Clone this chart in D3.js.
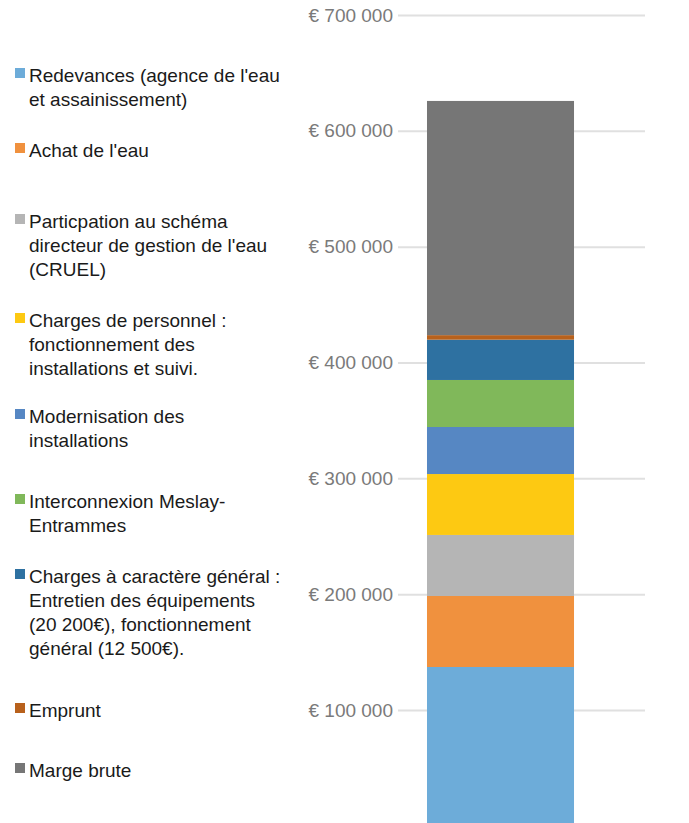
<!DOCTYPE html>
<html>
<head>
<meta charset="utf-8">
<script src="https://cdn.jsdelivr.net/npm/d3@7/dist/d3.min.js"></script>
<style>
  html, body { margin: 0; padding: 0; background: #ffffff; }
  svg { display: block; font-family: "Liberation Sans", Arial, sans-serif; }
</style>
</head>
<body>
<svg id="chart" width="689" height="823"></svg>
<script>
// ---- Data ----
const categories = ["Budget"];
const seriesNames = [
  "Redevances (agence de l'eau|et assainissement)",
  "Achat de l'eau",
  "Particpation au schéma|directeur de gestion de l'eau|(CRUEL)",
  "Charges de personnel :|fonctionnement des|installations et suivi.",
  "Modernisation des|installations",
  "Interconnexion Meslay-|Entrammes",
  "Charges à caractère général :|Entretien des équipements|(20 200€), fonctionnement|général (12 500€).",
  "Emprunt",
  "Marge brute"
];
const seriesValues = [137100, 61300, 52700, 52600, 40600, 40600, 34800, 3900, 202200];
const seriesColors = ["#6dacd9", "#f0913e", "#b5b5b5", "#fdc912", "#5687c3", "#80b85a", "#2e71a1", "#b8611c", "#767676"];
const tickValues = [100000, 200000, 300000, 400000, 500000, 600000, 700000];

// ---- Layout ----
const gridLeft = 398, gridRight = 645;
const yTop = 15, yZero = 825.8;
const legendFirstBaselines = [82, 157, 228, 327, 423, 508, 583, 717, 777];
const lineH = 24;

const svg = d3.select("#chart");

const y = d3.scaleLinear().domain([0, 700000]).range([yZero, yTop]);
const x = d3.scaleBand().domain(categories).range([gridLeft, gridRight])
  .paddingInner(0).paddingOuter(0.34).align(0.29);

// Gridlines + tick labels
const fmt = d => "€ " + d3.format(",")(d).replace(/,/g, " ");
const axis = d3.axisLeft(y).tickValues(tickValues).tickFormat(fmt)
  .tickSize(-(gridRight - gridLeft)).tickPadding(5);
const gAxis = svg.append("g").attr("transform", `translate(${gridLeft},0)`).call(axis);
gAxis.select(".domain").remove();
gAxis.selectAll(".tick line").attr("stroke", "#e0e0e0").attr("stroke-width", 2);
gAxis.selectAll(".tick text").attr("fill", "#7a7a7a").attr("font-size", 19)
  .attr("font-family", "Liberation Sans, Arial, sans-serif");

// Stacked bar
const stackData = [Object.fromEntries(seriesValues.map((v, i) => [i, v]))];
const stack = d3.stack().keys(seriesValues.map((v, i) => i))(stackData);
svg.append("g").selectAll("rect").data(stack).join("rect")
  .attr("x", x(categories[0]))
  .attr("width", x.bandwidth())
  .attr("y", d => y(d[0][1]))
  .attr("height", d => y(d[0][0]) - y(d[0][1]))
  .attr("fill", (d, i) => seriesColors[i]);

// Legend
const leg = svg.append("g");
seriesNames.forEach((name, i) => {
  const b = legendFirstBaselines[i];
  leg.append("rect").attr("x", 15).attr("y", b - 14).attr("width", 10).attr("height", 10)
    .attr("fill", seriesColors[i]);
  const t = leg.append("text").attr("x", 29).attr("y", b)
    .attr("font-size", 19).attr("fill", "#1a1a1a");
  name.split("|").forEach((line, j) => {
    t.append("tspan").attr("x", 29).attr("y", b + j * lineH).text(line);
  });
});
</script>
</body>
</html>
